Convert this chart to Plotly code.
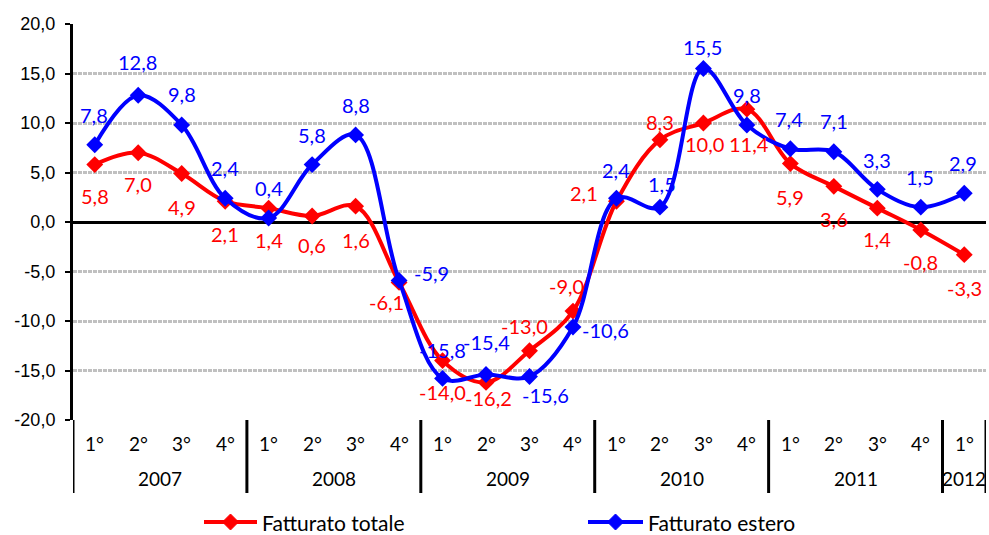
import plotly.graph_objects as go

# ---- data ----
year_labels = ["2007", "2008", "2009", "2010", "2011", "2012"]
quarters_per_year = [4, 4, 4, 4, 4, 1]
quarter_names = ["1°", "2°", "3°", "4°"]
series_names = ["Fatturato totale", "Fatturato estero"]

fatturato_totale = [5.8, 7.0, 4.9, 2.1, 1.4, 0.6, 1.6, -6.1,
                    -14.0, -16.2, -13.0, -9.0, 2.1, 8.3, 10.0, 11.4,
                    5.9, 3.6, 1.4, -0.8, -3.3]
fatturato_estero = [7.8, 12.8, 9.8, 2.4, 0.4, 5.8, 8.8, -5.9,
                    -15.8, -15.4, -15.6, -10.6, 2.4, 1.5, 15.5, 9.8,
                    7.4, 7.1, 3.3, 1.5, 2.9]

y_ticks = [-20, -15, -10, -5, 0, 5, 10, 15, 20]

# ---- label offsets (style, px) ----
red_dx = [0, 0, 0, 0, 0, 0, 0, -13, 0, 2, -5, -6, -32, 0, 1, 2, 0, 0, 0, 0, 0]
red_dy = [-31, -31, -34, -33, -32, -29, -34, -20, -31, -16, 25, 25, 8, 18, -21, -35, -33, -33, -31, -32, -33]
blue_dx = [-1, -1, 0, 0, 0, 0, 0, 32, 0, 0, 16, 33, 0, 2, -1, 0, -1, 0, 0, -1, -1]
blue_dy = [30, 33, 31, 30, 30, 30, 30, 7, 28, 32, -19, -3, 28, 23, 22, 30, 30, 31, 29, 30, 30]

RED = "#FF0000"
BLUE = "#0000FF"
LABEL_FONT = "Lato"

W, H = 989, 535
ML, MR, MT, MB = 73, 3, 24, 115
PW, PH = W - ML - MR, H - MT - MB

quarters = []
for n in quarters_per_year:
    quarters += quarter_names[:n]
x = list(range(len(quarters)))


def fmt(v):
    return f"{v:.1f}".replace(".", ",")


def px_x(px):
    return (px - ML) / PW


def px_y(py):
    return (H - MB - py) / PH


fig = go.Figure()
fig.add_trace(go.Scatter(
    x=x, y=fatturato_totale, name=series_names[0],
    mode="lines+markers", line=dict(color=RED, width=4, shape="spline", smoothing=1),
    marker=dict(symbol="diamond", size=13, color=RED)))
fig.add_trace(go.Scatter(
    x=x, y=fatturato_estero, name=series_names[1],
    mode="lines+markers", line=dict(color=BLUE, width=4, shape="spline", smoothing=1),
    marker=dict(symbol="diamond", size=13, color=BLUE)))

annotations = []
for i, v in enumerate(fatturato_totale):
    annotations.append(dict(x=i, y=v, xref="x", yref="y", text=fmt(v), showarrow=False,
                            xshift=red_dx[i], yshift=red_dy[i],
                            font=dict(family=LABEL_FONT, size=20, color=RED)))
for i, v in enumerate(fatturato_estero):
    annotations.append(dict(x=i, y=v, xref="x", yref="y", text=fmt(v), showarrow=False,
                            xshift=blue_dx[i], yshift=blue_dy[i],
                            font=dict(family=LABEL_FONT, size=20, color=BLUE)))

# quarter labels
for i, q in enumerate(quarters):
    annotations.append(dict(x=i, y=0, xref="x", yref="paper", text=q, showarrow=False,
                            yshift=-23, yanchor="middle",
                            font=dict(family=LABEL_FONT, size=19, color="black")))

# year labels and dividers
shapes = []
start = -0.5
div_len = 73 / PH
shapes.append(dict(type="line", xref="x", yref="paper", x0=start, x1=start, y0=0, y1=-div_len,
                   line=dict(color="black", width=3)))
for yl, n in zip(year_labels, quarters_per_year):
    end = start + n
    annotations.append(dict(x=(start + end) / 2, y=0, xref="x", yref="paper", text=yl,
                            showarrow=False, yshift=-58, yanchor="middle",
                            font=dict(family=LABEL_FONT, size=19, color="black")))
    shapes.append(dict(type="line", xref="x", yref="paper", x0=end, x1=end, y0=0, y1=-div_len,
                       line=dict(color="black", width=3)))
    start = end

# manual legend
legend_y = 522
for name, col, lx0, lx1 in zip(series_names, [RED, BLUE], [204, 588], [257, 643]):
    cx = (lx0 + lx1) / 2
    shapes.append(dict(type="line", xref="paper", yref="paper",
                       x0=px_x(lx0), x1=px_x(lx1), y0=px_y(legend_y), y1=px_y(legend_y),
                       line=dict(color=col, width=4)))
    d = 8
    path = (f"M {px_x(cx - d)},{px_y(legend_y)} L {px_x(cx)},{px_y(legend_y - d)} "
            f"L {px_x(cx + d)},{px_y(legend_y)} L {px_x(cx)},{px_y(legend_y + d)} Z")
    shapes.append(dict(type="path", xref="paper", yref="paper", path=path,
                       fillcolor=col, line=dict(color=col, width=1)))
    annotations.append(dict(x=px_x(lx1 + 3), y=px_y(legend_y), xref="paper", yref="paper",
                            text=name, showarrow=False, xanchor="left", yanchor="middle",
                            font=dict(family=LABEL_FONT, size=21, color="black")))

fig.update_layout(
    width=W, height=H,
    margin=dict(l=ML, r=MR, t=MT, b=MB),
    plot_bgcolor="white", paper_bgcolor="white",
    annotations=annotations, shapes=shapes,
    showlegend=False,
    xaxis=dict(range=[-0.5, 20.5], showgrid=False, showticklabels=False, zeroline=False,
               showline=False, ticks="", automargin=False),
    yaxis=dict(range=[-20, 20], tickvals=y_ticks, ticktext=[fmt(v) for v in y_ticks],
               showgrid=True, gridcolor="#C0C0C0", gridwidth=3, griddash="4px,1px",
               zeroline=True, zerolinecolor="black", zerolinewidth=3,
               showline=True, linecolor="black", linewidth=3,
               ticks="outside", ticklen=5, tickwidth=2, tickcolor="black",
               ticklabelstandoff=6, automargin=False,
               tickfont=dict(family="Liberation Sans", size=18, color="black")),
)

fig.write_html("out.html", config={"displayModeBar": False},
               post_script="document.body.style.margin='0px';document.body.style.overflow='hidden';")
